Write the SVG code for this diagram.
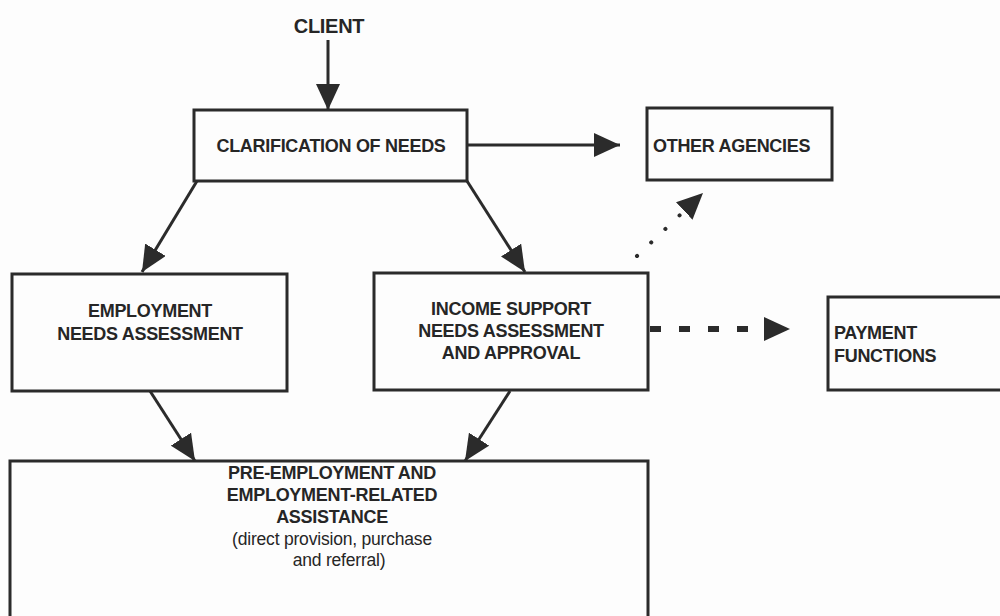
<svg xmlns="http://www.w3.org/2000/svg" width="1000" height="616" viewBox="0 0 1000 616">
<style>
.box{fill:none;stroke:#2b2b2b;stroke-width:3}
.t{font-family:"Liberation Sans",Arial,sans-serif;font-weight:bold;font-size:18px;fill:#262626;letter-spacing:-0.3px}
.s{font-family:"Liberation Sans",Arial,sans-serif;font-size:17.5px;fill:#262626;letter-spacing:-0.2px}
.c{text-anchor:middle}
.ln{fill:none;stroke:#2b2b2b;stroke-width:3}
</style>
<defs>
<marker id="ah" markerUnits="userSpaceOnUse" markerWidth="28" markerHeight="24" refX="26" refY="12" orient="auto">
<path d="M0,0 L26,12 L0,24 Z" fill="#2b2b2b"/>
</marker>
</defs>
<rect width="1000" height="616" fill="#fdfdfd"/>
<g id="client"><text class="t c" x="329" y="33" style="font-size:20px">CLIENT</text></g>
<g id="clarification"><rect class="box" x="194" y="110" width="273" height="71"/><text class="t c" x="331" y="152">CLARIFICATION OF NEEDS</text></g>
<g id="other-agencies"><rect class="box" x="647" y="108" width="185" height="72"/><text class="t" x="653" y="152">OTHER AGENCIES</text></g>
<g id="employment"><rect class="box" x="12" y="274" width="275" height="117"/><text class="t c" x="150" y="317">EMPLOYMENT</text><text class="t c" x="150" y="340">NEEDS ASSESSMENT</text></g>
<g id="income"><rect class="box" x="374" y="273" width="274" height="117"/><text class="t c" x="511" y="315">INCOME SUPPORT</text><text class="t c" x="511" y="337">NEEDS ASSESSMENT</text><text class="t c" x="511" y="359">AND APPROVAL</text></g>
<g id="payment"><rect class="box" x="828" y="297" width="180" height="93"/><text class="t" x="834" y="339">PAYMENT</text><text class="t" x="834" y="362">FUNCTIONS</text></g>
<g id="pre-employment"><rect class="box" x="10" y="461" width="638" height="170"/><text class="t c" x="332" y="479">PRE-EMPLOYMENT AND</text><text class="t c" x="332" y="501">EMPLOYMENT-RELATED</text><text class="t c" x="332" y="523">ASSISTANCE</text><text class="s c" x="332" y="545">(direct provision, purchase</text><text class="s c" x="339" y="566">and referral)</text></g>
<g id="connectors">
<line class="ln" x1="328" y1="40" x2="328" y2="110" marker-end="url(#ah)"/>
<line class="ln" x1="467" y1="145" x2="620" y2="145" marker-end="url(#ah)"/>
<line class="ln" x1="197" y1="181" x2="142" y2="272" marker-end="url(#ah)"/>
<line class="ln" x1="467" y1="181" x2="525" y2="272" marker-end="url(#ah)"/>
<line class="ln" x1="150" y1="391" x2="195" y2="461" marker-end="url(#ah)"/>
<line class="ln" x1="510" y1="391" x2="465" y2="461" marker-end="url(#ah)"/>
<line x1="637" y1="256" x2="703" y2="193" stroke="#2b2b2b" stroke-width="4" stroke-dasharray="0.1,19.5" stroke-linecap="round" marker-end="url(#ah)"/>
<line x1="650" y1="329" x2="790" y2="329" stroke="#2b2b2b" stroke-width="6" stroke-dasharray="11,18" marker-end="url(#ah)"/>
</g>
</svg>
